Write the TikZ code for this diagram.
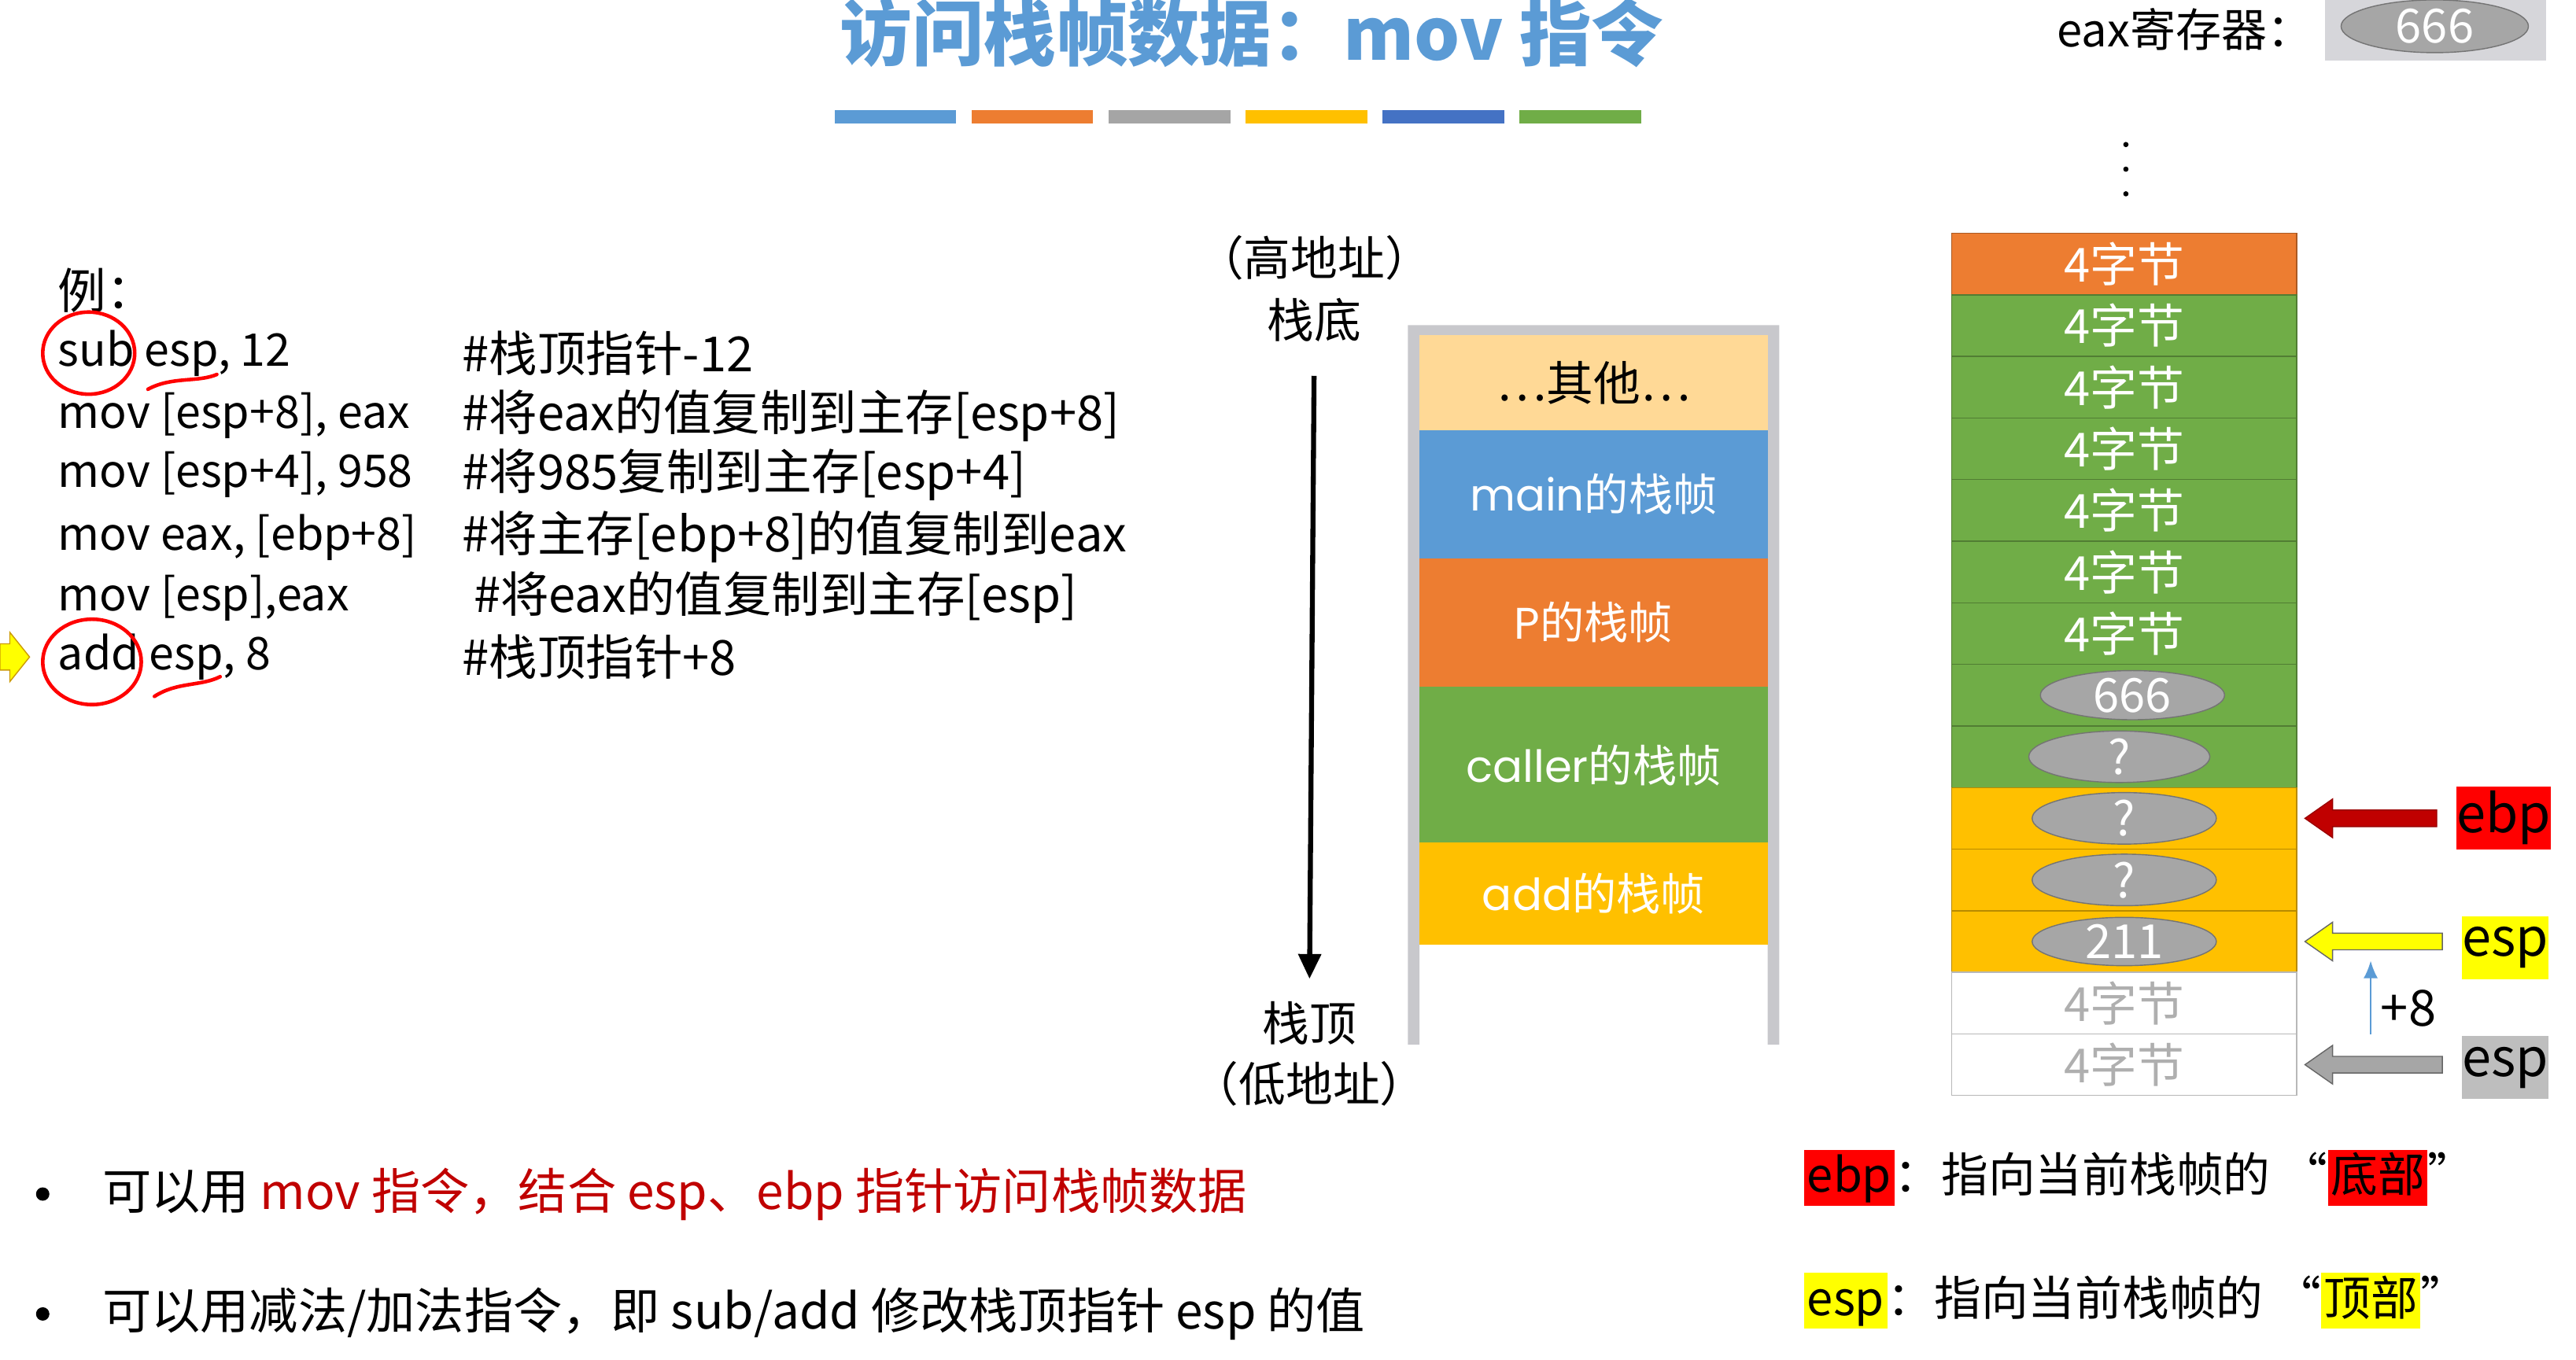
\documentclass[tikz,border=0pt]{standalone}
\usepackage{fontspec}
\setmainfont{Noto Sans CJK SC}
\newfontfamily\geo{Poppins}
\usetikzlibrary{calc,arrows.meta,positioning,shapes.geometric}

\definecolor{titleblue}{RGB}{91,155,213}
\definecolor{barblue}{RGB}{91,155,213}
\definecolor{barorange}{RGB}{237,125,49}
\definecolor{bargray}{RGB}{165,165,165}
\definecolor{baryellow}{RGB}{255,192,0}
\definecolor{bardblue}{RGB}{68,114,196}
\definecolor{bargreen}{RGB}{112,173,71}
\definecolor{peach}{RGB}{255,217,150}
\definecolor{framegray}{RGB}{200,200,204}
\definecolor{regbg}{RGB}{214,214,218}
\definecolor{ovalgray}{RGB}{166,166,166}
\definecolor{cellgray}{RGB}{175,175,175}
\definecolor{ebpred}{RGB}{255,0,0}
\definecolor{arrowred}{RGB}{192,0,0}
\definecolor{espyellow}{RGB}{255,255,0}
\definecolor{espgray}{RGB}{190,190,190}
\definecolor{plusblue}{RGB}{91,155,213}

\tikzset{
  txt/.style={inner sep=0pt,font=\fontsize{17}{20}\selectfont},
  code/.style={txt,anchor=west,font=\fontsize{16.3}{20}\selectfont},
  comment/.style={txt,anchor=west,font=\fontsize{17.5}{20}\selectfont},
  note/.style={txt,anchor=west,font=\fontsize{17.7}{20}\selectfont},
  key/.style={txt,anchor=west,font=\fontsize{17}{20}\selectfont},
  dot/.style={circle,fill,inner sep=0pt,minimum size=0.17cm},
  frame/.style={txt,text=white,font=\fontsize{16}{19}\selectfont},
  cell/.style={txt,text=white},
  oval/.style={ellipse,fill=ovalgray,draw=ovalgray!70!black,text=white,inner sep=0pt,
    minimum width=2.34cm,minimum height=0.56cm,font=\fontsize{17}{20}\selectfont},
  regbox/.style={txt,minimum width=1cm,minimum height=0.8cm,font=\fontsize{19}{22}\selectfont},
  redmark/.style={red,line width=1.3pt,line cap=round}
}

% block arrow pointing left, from the west side of #2 to the point #3
\newcommand\blockarrow[3]{\filldraw[#1] let \p1=(#2), \p2=(#3) in
  (\x1-7pt,\y2+3pt) -- (\x2+10pt,\y2+3pt) -- (\x2+10pt,\y2+7pt) -- (\x2,\y2) --
  (\x2+10pt,\y2-7pt) -- (\x2+10pt,\y2-3pt) -- (\x1-7pt,\y2-3pt) -- cycle;}
\newcommand\keybox[2]{\colorbox{#1}{\vphantom{底p}#2}}

\begin{document}
\begin{tikzpicture}[x=0.02088cm,y=-0.02088cm,>={Latex[length=2.4mm]}]
  \useasboundingbox (0,0) rectangle (1568,828);

  % title and bars
  \node[txt,text=titleblue,font=\bfseries\fontsize{26}{30}\selectfont] (title) at (762,20) {访问栈帧数据：mov 指令};
  \foreach \c [count=\i] in {barblue,barorange,bargray,baryellow,bardblue,bargreen}
    \fill[\c] ({508+(\i-1)*83.4},67) rectangle ++(74,8);

  % eax register
  \node[txt,anchor=east,font=\fontsize{16.5}{20}\selectfont] (eaxlbl) at (1408,18) {eax寄存器：};
  \fill[regbg] (1415,0) rectangle (1550,37);
  \node[oval,minimum width=2.38cm,minimum height=0.67cm] (eaxval) at (1482,16) {666};

  % code
  \node[comment] (ex) at (35,177) {例：};
  \node[code] (c1) at (35,215) {sub esp, 12};
  \node[code] (c2) at (35,253) {mov [esp+8], eax};
  \node[code] (c3) at (35,289) {mov [esp+4], 958};
  \node[code] (c4) at (35,327) {mov eax, [ebp+8]};
  \node[code] (c5) at (35,364) {mov [esp],eax};
  \node[code] (c6) at (35,400) {add esp, 8};
  \node[comment] (m1) at (281,215) {\#栈顶指针-12};
  \node[comment] (m2) at (281,253) {\#将eax的值复制到主存[esp+8]};
  \node[comment] (m3) at (281,289) {\#将985复制到主存[esp+4]};
  \node[comment] (m4) at (281,327) {\#将主存[ebp+8]的值复制到eax};
  \node[comment] (m5) at (288,364) {\#将eax的值复制到主存[esp]};
  \node[comment] (m6) at (281,400) {\#栈顶指针+8};
  \draw[redmark] (54,215) ellipse [x radius=28, y radius=25];
  \draw[redmark] (56,403) ellipse [x radius=30, y radius=26];
  \draw[redmark] (90,237) .. controls (105,229) and (120,233) .. (132,228);
  \draw[redmark] (94,424) .. controls (108,415) and (122,418) .. (134,412);
  \filldraw[fill=espyellow,draw=baryellow!80!black] (0,392) -- (6,392) -- (6,385) -- (18,400) -- (6,415) -- (6,408) -- (0,408) -- cycle;

  % stack frames
  \node[txt,font=\fontsize{17}{19}\selectfont] (high) at (800,157) {（高地址）};
  \node[txt,font=\fontsize{17}{19}\selectfont] (bottom) at (800,195) {栈底};
  \node[txt,font=\fontsize{17}{19}\selectfont] (top) at (797,623) {栈顶};
  \node[txt,font=\fontsize{17}{19}\selectfont] (low) at (797,660) {（低地址）};
  \draw[line width=1.8pt,-{Triangle[length=9pt,width=8pt]},shorten <=12pt,shorten >=8pt] (bottom.south) -- (top.north);
  \fill[framegray] (857,198) rectangle (864,636) (1076,198) rectangle (1083,636) (857,198) rectangle (1083,204);
  \fill[peach] (864,204) rectangle (1076,262);
  \fill[barblue] (864,262) rectangle (1076,340);
  \fill[barorange] (864,340) rectangle (1076,418);
  \fill[bargreen] (864,418) rectangle (1076,513);
  \fill[baryellow] (864,513) rectangle (1076,575);
  \node[frame,text=black,font=\fontsize{17}{19}\selectfont] (other) at (970,233) {…其他…};
  \node[frame] (mainf) at (970,301) {{\geo main}的栈帧};
  \node[frame] (pf) at (970,379) {{\geo P}的栈帧};
  \node[frame] (callerf) at (970,466) {{\geo caller}的栈帧};
  \node[frame] (addf) at (970,544) {{\geo add}的栈帧};

  % memory cells
  \foreach \y in {88,103,118} \fill (1294,\y) circle (1.6);
  \foreach \f [count=\i] in {barorange,bargreen,bargreen,bargreen,bargreen,bargreen,bargreen,bargreen,bargreen,baryellow,baryellow,baryellow,white,white} {
    \filldraw[fill=\f,draw=\f!72!black] (1188,{142+(\i-1)*37.5}) rectangle ++(210,37.5);
    \coordinate (r\i) at (1403,{142+(\i-0.5)*37.5});
  }
  \foreach \i in {1,...,7} \node[cell] (cell\i) at (1293,{142+(\i-0.5)*37.5}) {4字节};
  \node[cell,text=cellgray] (cell13) at (1293,{142+12.5*37.5}) {4字节};
  \node[cell,text=cellgray] (cell14) at (1293,{142+13.5*37.5}) {4字节};
  \node[oval] (cell8) at (1298,{142+7.5*37.5}) {666};
  \node[oval,minimum width=2.3cm] (cell9) at (1290,{142+8.5*37.5}) {?};
  \node[oval] (cell10) at (1293,{142+9.5*37.5}) {?};
  \node[oval] (cell11) at (1293,{142+10.5*37.5}) {?};
  \node[oval] (cell12) at (1293,{142+11.5*37.5}) {211};

  % pointers
  \node[regbox,fill=ebpred] (ebp) at (1524,498) {ebp};
  \node[regbox,fill=espyellow] (esp) at (1525,577) {esp};
  \node[regbox,fill=espgray] (oldesp) at (1525,650) {esp};
  \blockarrow{fill=arrowred,draw=arrowred!80!black}{ebp.west}{r10}
  \blockarrow{fill=espyellow,draw=black!60}{esp.west}{r12}
  \blockarrow{fill=ovalgray,draw=black!60}{oldesp.west}{r14}
  \coordinate (p8a) at (1443,630);
  \coordinate (p8b) at (1443,585);
  \draw[->,plusblue,line width=0.6pt,>={Latex[length=2.2mm,width=1.8mm]}] (p8a) -- (p8b);
  \node[txt,font=\fontsize{18}{20}\selectfont] (plus8) at (1466,614) {+8};

  % notes
  \node[dot] (b1) at (26,727) {};
  \node[note] (n1) at (62,727) {可以用 \textcolor{arrowred}{mov 指令，结合 esp、ebp 指针访问栈帧数据}};
  \node[dot] (b2) at (26,800) {};
  \node[note] (n2) at (62,800) {可以用减法/加法指令，即 sub/add 修改栈顶指针 esp 的值};
  \setlength{\fboxsep}{1pt}
  \node[key] (k1) at (1098,717) {\keybox{ebpred}{ebp}：指向当前栈帧的 “\keybox{ebpred}{底部}”};
  \node[key] (k2) at (1098,792) {\keybox{espyellow}{esp}：指向当前栈帧的 “\keybox{espyellow}{顶部}”};
\end{tikzpicture}
\end{document}
